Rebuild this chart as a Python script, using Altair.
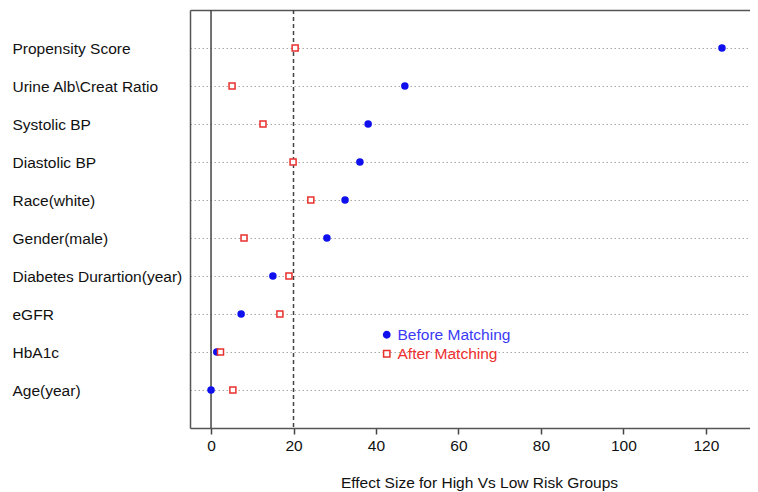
import altair as alt
import pandas as pd

covariates = ["Propensity Score", "Urine Alb\\Creat Ratio", "Systolic BP", "Diastolic BP",
              "Race(white)", "Gender(male)", "Diabetes Durartion(year)", "eGFR", "HbA1c", "Age(year)"]
before = [123.9, 47.0, 38.1, 36.1, 32.5, 28.1, 15.0, 7.3, 1.4, 0.0]
after = [20.4, 5.1, 12.6, 19.9, 24.2, 8.0, 18.9, 16.7, 2.3, 5.3]
groups = ["Before Matching", "After Matching"]
ref_solid = [0]
ref_dashed = [20]
x_ticks = [0, 20, 40, 60, 80, 100, 120]

rows = []
for c, b, a in zip(covariates, before, after):
    rows.append({"cov": c, "val": b, "grp": groups[0]})
    rows.append({"cov": c, "val": a, "grp": groups[1]})
df = pd.DataFrame(rows)

FONT = "Liberation Sans"
FS = 15.5
xscale = alt.Scale(domain=[-5.1, 130.7], nice=False, zero=False)
yscale = alt.Scale(domain=covariates, padding=1)
BLUE = "#1010ee"
RED = "#e8302e"

legend = alt.Legend(
    title=None, orient="none", legendX=189, legendY=317, padding=0,
    labelFontSize=FS, labelFont=FONT,
    labelColor={"expr": "datum.value == 'Before Matching' ? '#3a3af5' : '#ee3030'"},
    symbolSize=40, symbolStrokeWidth=1.5, rowPadding=2, labelOffset=3,
)

points = alt.Chart(df).mark_point(filled=True, opacity=1, strokeWidth=1.5, size=36).encode(
    x=alt.X("val:Q", scale=xscale,
            axis=alt.Axis(values=x_ticks, grid=False, tickSize=6, tickColor="#444", tickWidth=1.5,
                          domainColor="#555", domainWidth=1.5, labelFontSize=FS, labelColor="#111",
                          labelPadding=4, title="Effect Size for High Vs Low Risk Groups",
                          titleFontSize=FS, titleFontWeight="normal", titleColor="#111",
                          titlePadding=22, titleX=289, labelFont=FONT, titleFont=FONT)),
    y=alt.Y("cov:N", scale=yscale, sort=covariates,
            axis=alt.Axis(title=None, ticks=False, labelAlign="left", labelPadding=178,
                          labelFontSize=FS, labelColor="#111", labelFont=FONT,
                          domainColor="#555", domainWidth=1.5,
                          grid=True, gridDash=[1.5, 2.5], gridColor="#a8a8a8", gridWidth=1)),
    shape=alt.Shape("grp:N", scale=alt.Scale(domain=groups, range=["circle", "square"]), legend=legend),
    fill=alt.Fill("grp:N", scale=alt.Scale(domain=groups, range=[BLUE, "white"]), legend=legend),
    stroke=alt.Stroke("grp:N", scale=alt.Scale(domain=groups, range=[BLUE, RED]), legend=legend),
)

solid = alt.Chart(pd.DataFrame({"v": ref_solid})).mark_rule(color="#444", strokeWidth=1.5).encode(
    x=alt.X("v:Q", scale=xscale,
            axis=alt.Axis(orient="top", labels=False, ticks=False, title=None, grid=False,
                          domainColor="#555", domainWidth=1.5))
)
dashed = alt.Chart(pd.DataFrame({"v": ref_dashed})).mark_rule(color="#444", strokeWidth=1.5,
                                                             strokeDash=[4, 3]).encode(
    x=alt.X("v:Q", scale=xscale, axis=None)
)

chart = alt.layer(solid, dashed, points).resolve_axis(x="independent").properties(
    width=560, height=418,
    padding={"left": 4, "top": 1, "right": 0, "bottom": 0},
).configure_view(stroke=None)

chart.save("out.html", embed_options={"renderer": "svg", "actions": False})
